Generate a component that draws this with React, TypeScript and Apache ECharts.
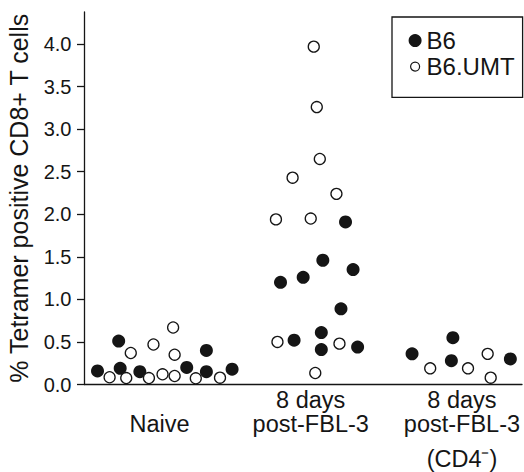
import React, { useEffect, useRef } from "react";
import * as echarts from "echarts";

// Category labels (placed at x = 1, 2, 3)
const categories = ["Naive", "8 days\npost-FBL-3", "8 days\npost-FBL-3\n(CD4\u207B)"];
const categoryPositions = [1, 2, 3];

// Y tick labels
const yTicks = [0, 0.5, 1, 1.5, 2, 2.5, 3, 3.5, 4];

// B6 (filled) — jittered x position and value
const b6X = [0.59, 0.73, 0.74, 0.87, 1.18, 1.31, 1.31, 1.48, 2.23, 2.08, 2.28, 1.95, 1.8, 2.2, 1.89, 2.07, 2.07, 2.31, 2.67, 2.94, 2.93, 3.32];
const b6Y = [0.16, 0.51, 0.19, 0.15, 0.2, 0.4, 0.15, 0.18, 1.91, 1.46, 1.35, 1.26, 1.2, 0.89, 0.52, 0.61, 0.41, 0.44, 0.36, 0.55, 0.28, 0.3];

// B6.UMT (open)
const umtX = [0.67, 0.81, 0.78, 0.93, 0.96, 1.02, 1.09, 1.1, 1.1, 1.24, 1.4, 2.02, 2.04, 2.06, 1.88, 2.17, 1.77, 2.0, 1.78, 2.19, 2.03, 2.79, 3.04, 3.17, 3.19];
const umtY = [0.085, 0.37, 0.076, 0.076, 0.47, 0.12, 0.67, 0.35, 0.1, 0.073, 0.08, 3.97, 3.26, 2.65, 2.43, 2.24, 1.94, 1.95, 0.5, 0.48, 0.135, 0.19, 0.19, 0.36, 0.08];

const INK = "#151515";
const FONT = "'Liberation Sans', Arial, Helvetica, sans-serif";

export default function App() {
  const ref = useRef<HTMLDivElement>(null);

  useEffect(() => {
    if (!ref.current) return;
    const chart = echarts.init(ref.current, null, { renderer: "svg" });

    const b6Data = b6X.map((x, i) => [x, b6Y[i]]);
    const umtData = umtX.map((x, i) => [x, umtY[i]]);

    const fmtCategory = (v: number) => {
      const idx = categoryPositions.indexOf(Math.round(v));
      if (idx < 0) return "";
      const lines = categories[idx].split("\n");
      if (lines.length === 1) return "\n" + lines[0];
      if (lines.length === 3) return lines[0] + "\n" + lines[1] + "\n{c|" + lines[2] + "}";
      return lines.join("\n");
    };

    chart.setOption({
      animation: false,
      textStyle: { fontFamily: FONT, color: INK },
      grid: {
        left: 84.5,
        right: 2,
        top: 12,
        bottom: 87.5,
        containLabel: false,
        outerBoundsMode: "none",
      },
      legend: {
        orient: "vertical",
        left: 392,
        top: 17,
        padding: [10.6, 8, 17.8, 16],
        borderColor: INK,
        borderWidth: 1.3,
        itemGap: 0,
        itemWidth: 13,
        itemHeight: 13,
        textStyle: { fontSize: 24, lineHeight: 26, color: INK, fontFamily: FONT },
        data: [
          { name: "B6", icon: "circle", itemStyle: { color: INK, borderWidth: 0, opacity: 1 } },
          {
            name: "B6.UMT",
            icon: "path://M0,0M13,13M11,6.5A4.5,4.5,0,1,1,2,6.5A4.5,4.5,0,1,1,11,6.5Z",
            itemStyle: { color: "#fff", borderColor: INK, borderWidth: 1.2, opacity: 1 },
          },
        ],
      },
      xAxis: {
        type: "value",
        min: 0.504,
        max: 3.397,
        splitLine: { show: false },
        axisLine: { show: true, onZero: false, lineStyle: { color: INK, width: 1.3 } },
        axisTick: { show: false },
        axisLabel: {
          customValues: categoryPositions,
          formatter: fmtCategory,
          fontSize: 23.5,
          lineHeight: 23.5,
          margin: 4,
          color: INK,
          fontFamily: FONT,
          rich: {
            c: { fontSize: 23.5, lineHeight: 47, color: INK, fontFamily: FONT },
          },
        },
      },
      yAxis: {
        type: "value",
        min: 0,
        max: 4.377,
        name: "% Tetramer positive CD8+ T cells",
        nameLocation: "middle",
        nameRotate: 90,
        nameGap: 53,
        nameTextStyle: { fontSize: 25, color: INK, fontFamily: FONT },
        splitLine: { show: false },
        axisLine: { show: true, lineStyle: { color: INK, width: 1.3 } },
        axisTick: {
          show: true,
          inside: false,
          length: 7.5,
          customValues: yTicks,
          lineStyle: { color: INK, width: 1.3 },
        },
        axisLabel: {
          customValues: yTicks,
          formatter: (v: number) => v.toFixed(1),
          fontSize: 20,
          margin: 13,
          color: INK,
          fontFamily: FONT,
        },
      },
      series: [
        {
          name: "B6",
          type: "scatter",
          data: b6Data,
          symbol: "circle",
          symbolSize: 13,
          itemStyle: { color: INK, opacity: 1 },
          z: 2,
        },
        {
          name: "B6.UMT",
          type: "scatter",
          data: umtData,
          symbol: "circle",
          symbolSize: 11,
          itemStyle: { color: "#fff", borderColor: INK, borderWidth: 1.3, opacity: 1 },
          z: 3,
        },
      ],
    });

    return () => chart.dispose();
  }, []);

  return (
    <div
      ref={ref}
      style={{ position: "fixed", left: 0, top: 0, width: 524, height: 472, background: "#fff" }}
    />
  );
}
